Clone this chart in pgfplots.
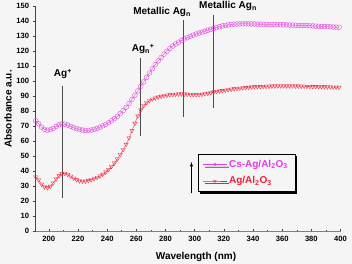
\documentclass[border=0pt]{standalone}
\usepackage{pgfplots}
\pgfplotsset{compat=1.18}
\usepackage{pgfplotstable}
\usepackage{fontspec}
\setmainfont{Liberation Sans}
\usetikzlibrary{shadows}
\definecolor{bg}{RGB}{245,245,245}
\definecolor{csc}{RGB}{225,60,225}
\definecolor{agc}{RGB}{240,30,60}
\definecolor{axc}{RGB}{70,70,70}
\pgfplotstableread{
x cs ag
191 73.5 36.0
193 71.5 34.0
195 69.3 31.2
197 67.8 29.3
199 67.2 28.8
201 67.5 29.8
203 68.4 32.0
205 69.7 34.6
207 70.8 36.8
209 71.4 38.1
211 71.3 38.4
213 70.6 37.7
215 69.7 36.5
217 68.9 35.2
219 68.2 34.1
221 67.7 33.4
223 67.3 33.1
225 67.1 33.2
227 67.1 33.6
229 67.3 34.2
231 67.8 34.9
233 68.4 35.7
235 69.2 36.6
237 70.1 37.8
239 71.1 39.3
241 72.2 41.0
243 73.5 43.0
245 74.9 45.3
247 76.5 48.0
249 78.3 51.0
251 80.3 54.2
253 82.5 57.8
255 85.0 62.0
257 87.7 66.8
259 90.5 71.8
261 93.4 76.6
263 96.4 80.6
265 99.4 83.5
267 102.4 85.5
269 105.3 86.9
271 108.2 87.9
273 110.9 88.7
275 113.4 89.3
277 115.7 89.8
279 117.9 90.2
281 119.9 90.5
283 121.7 90.8
285 123.3 91.0
287 124.7 91.2
289 125.9 91.3
291 127.0 91.3
293 128.0 91.3
295 128.9 91.2
297 129.8 91.0
299 130.6 90.9
301 131.3 90.8
303 132.0 90.9
305 132.6 91.1
307 133.2 91.4
309 133.8 91.8
311 134.4 92.2
313 135.0 92.6
315 135.6 93.0
317 136.2 93.3
319 136.7 93.6
321 137.1 93.9
323 137.4 94.2
325 137.7 94.5
327 137.9 94.8
329 138.0 95.0
331 138.1 95.2
333 138.1 95.4
335 138.1 95.6
337 138.1 95.8
339 138.0 96.0
341 138.0 96.1
343 137.9 96.2
345 137.9 96.3
347 137.8 96.4
349 137.8 96.5
351 137.7 96.5
353 137.7 96.6
355 137.6 96.6
357 137.6 96.7
359 137.5 96.7
361 137.5 96.7
363 137.4 96.7
365 137.3 96.7
367 137.3 96.7
369 137.2 96.6
371 137.1 96.6
373 137.0 96.5
375 137.0 96.5
377 136.9 96.4
379 136.8 96.4
381 136.7 96.3
383 136.6 96.3
385 136.5 96.2
387 136.4 96.2
389 136.3 96.1
391 136.2 96.0
393 136.1 96.0
395 136.0 95.9
397 135.9 95.9
399 135.8 95.8
}\datatable
\begin{document}
\begin{tikzpicture}
\fill[bg] (0,0) rectangle (352pt,264pt);
\useasboundingbox (0,0) rectangle (352pt,264pt);
\begin{axis}[
  at={(35.7pt,33pt)}, anchor=south west,
  scale only axis, width=304.8pt, height=225pt,
  xmin=191, xmax=400, ymin=0, ymax=150,
  axis x line*=bottom, axis y line*=left,
  x axis line style={-, draw=gray, line width=0.5pt},
  y axis line style={-, draw=axc, line width=1.2pt},
  xtick={200,220,...,400}, ytick={0,10,...,150},
  minor x tick num=1,
  xtick align=center, ytick align=outside,
  major tick length=3pt, minor tick length=2pt,
  tick style={draw=axc, line width=0.5pt},
  tick label style={font=\fontsize{7.6}{9}\selectfont\bfseries},
  /pgf/number format/assume math mode=true,
  xlabel={Wavelength (nm)}, ylabel={Absorbance a.u.},
  label style={font=\fontsize{10}{12}\selectfont\bfseries},
  xlabel style={at={(axis description cs:0.526,-0.1156)}, anchor=center},
  ylabel style={at={(axis description cs:-0.091,0.542)}, anchor=center},
  clip=false,
  legend style={at={(0.531,0.3436)}, anchor=north west, draw=black, fill=bg,
    font=\fontsize{10}{12}\selectfont\bfseries, inner xsep=5pt, inner ysep=4pt,
    row sep=4pt,
    drop shadow={shadow xshift=2.5pt, shadow yshift=-2.5pt, fill=black, opacity=1}},
  legend cell align=left,
  legend image code/.code={\draw[mark repeat=2,mark phase=2, mark size=1.6pt] plot coordinates {(0pt,0pt) (12pt,0pt) (24pt,0pt)};},
]
\addplot[csc, line width=0.3pt, mark=o, mark size=2.4pt, mark options={line width=0.35pt}] table[x=x, y=cs] {\datatable};
\addlegendentry{\textcolor{csc}{Cs-Ag/Al\textsubscript{2}O\textsubscript{3}}}
\addplot[agc, line width=0.3pt, mark=triangle, mark size=2.4pt, mark options={rotate=180, line width=0.35pt}] table[x=x, y=ag] {\datatable};
\addlegendentry{\textcolor{agc}{Ag/Al\textsubscript{2}O\textsubscript{3}}}
\draw[gray!60!black, line width=0.5pt] (axis cs:209.5,22) -- (axis cs:209.5,96.7);
\draw[gray!60!black, line width=0.5pt] (axis cs:263,63) -- (axis cs:263,115);
\draw[gray!60!black, line width=0.5pt] (axis cs:292.5,76) -- (axis cs:292.5,140.7);
\draw[gray!60!black, line width=0.5pt] (axis cs:312.4,81.8) -- (axis cs:312.4,144);
\draw[-latex, line width=0.5pt] (axis cs:297.8,25) -- (axis cs:297.8,46);
\begin{scope}[every node/.style={font=\fontsize{10}{12}\selectfont\bfseries, inner sep=0pt, anchor=base west}]
\node at (axis cs:203.4,102.7) {Ag\textsuperscript{+}};
\node at (axis cs:256.8,119.5) {Ag\textsubscript{n}\textsuperscript{+}};
\node at (axis cs:257.8,144) {Metallic Ag\textsubscript{n}};
\node at (axis cs:303,148) {Metallic Ag\textsubscript{n}};
\end{scope}
\end{axis}
\end{tikzpicture}
\end{document}
